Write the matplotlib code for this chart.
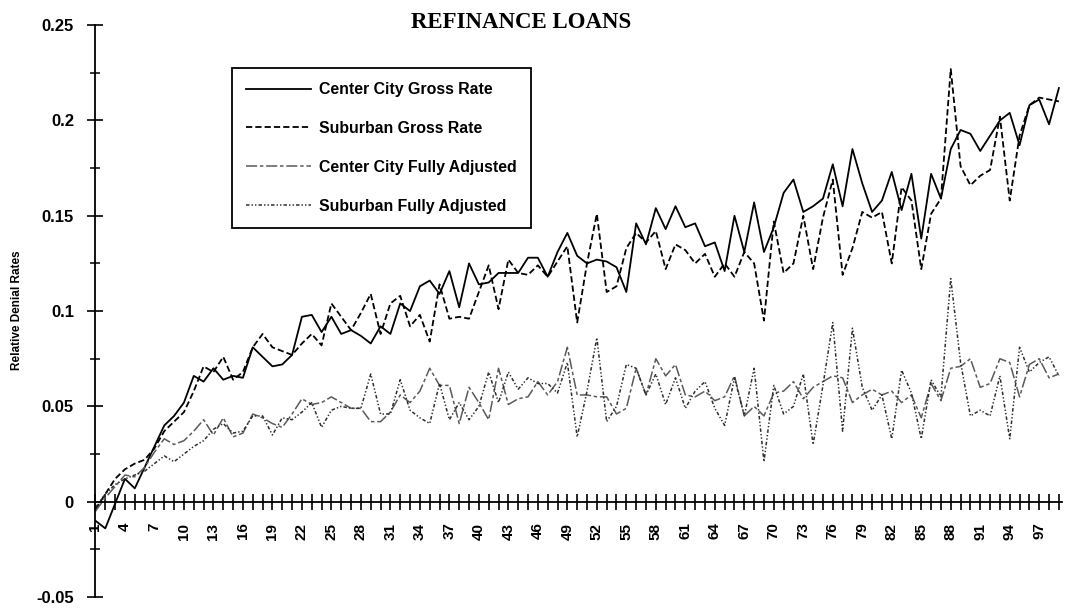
import matplotlib
matplotlib.use("Agg")
import matplotlib.pyplot as plt
from matplotlib.ticker import FixedLocator, FixedFormatter, MultipleLocator

plt.rcParams['font.family'] = ['Liberation Sans', 'DejaVu Sans']
plt.rcParams['lines.scale_dashes'] = False

# ---- data (index 1..99) ----
periods = list(range(1, 100))

center_city_gross = [
    -0.010, -0.014, -0.001, 0.012, 0.007, 0.018, 0.029, 0.040, 0.045, 0.052,
    0.066, 0.063, 0.070, 0.064, 0.066, 0.065, 0.081, 0.076, 0.071, 0.072,
    0.077, 0.097, 0.098, 0.089, 0.097, 0.088, 0.090, 0.087, 0.083, 0.092,
    0.088, 0.104, 0.100, 0.113, 0.116, 0.109, 0.121, 0.102, 0.125, 0.114,
    0.115, 0.120, 0.120, 0.120, 0.128, 0.128, 0.118, 0.131, 0.141, 0.129,
    0.125, 0.127, 0.126, 0.123, 0.110, 0.146, 0.135, 0.154, 0.143, 0.155,
    0.144, 0.146, 0.134, 0.136, 0.121, 0.150, 0.131, 0.157, 0.131, 0.144,
    0.162, 0.169, 0.152, 0.155, 0.159, 0.177, 0.155, 0.185, 0.167, 0.152,
    0.158, 0.173, 0.153, 0.172, 0.138, 0.172, 0.159, 0.185, 0.195, 0.193,
    0.184, 0.192, 0.200, 0.204, 0.187, 0.208, 0.211, 0.198, 0.217]

suburban_gross = [
    -0.004, 0.004, 0.012, 0.017, 0.020, 0.022, 0.028, 0.037, 0.042, 0.047,
    0.058, 0.071, 0.068, 0.076, 0.064, 0.068, 0.081, 0.088, 0.081, 0.079,
    0.077, 0.083, 0.088, 0.082, 0.104, 0.097, 0.090, 0.099, 0.109, 0.088,
    0.104, 0.108, 0.092, 0.098, 0.084, 0.114, 0.096, 0.097, 0.096, 0.110,
    0.124, 0.101, 0.127, 0.120, 0.119, 0.124, 0.118, 0.126, 0.134, 0.094,
    0.125, 0.151, 0.110, 0.113, 0.133, 0.141, 0.136, 0.142, 0.122, 0.135,
    0.132, 0.125, 0.130, 0.118, 0.125, 0.118, 0.131, 0.125, 0.095, 0.147,
    0.120, 0.125, 0.150, 0.122, 0.149, 0.169, 0.119, 0.133, 0.152, 0.149,
    0.152, 0.125, 0.165, 0.158, 0.122, 0.151, 0.159, 0.227, 0.176, 0.166,
    0.171, 0.174, 0.202, 0.158, 0.192, 0.208, 0.212, 0.211, 0.210]

center_city_adjusted = [
    -0.005, 0.002, 0.008, 0.014, 0.013, 0.018, 0.026, 0.033, 0.030, 0.032,
    0.037, 0.043, 0.035, 0.044, 0.034, 0.036, 0.046, 0.044, 0.041, 0.039,
    0.046, 0.054, 0.051, 0.052, 0.055, 0.052, 0.049, 0.049, 0.042, 0.042,
    0.047, 0.056, 0.052, 0.058, 0.070, 0.061, 0.061, 0.041, 0.060, 0.052,
    0.043, 0.070, 0.051, 0.054, 0.055, 0.063, 0.056, 0.063, 0.081, 0.056,
    0.056, 0.055, 0.055, 0.046, 0.049, 0.070, 0.056, 0.075, 0.066, 0.072,
    0.056, 0.055, 0.058, 0.053, 0.055, 0.066, 0.045, 0.050, 0.045, 0.057,
    0.058, 0.063, 0.054, 0.060, 0.063, 0.066, 0.065, 0.052, 0.056, 0.059,
    0.056, 0.058, 0.052, 0.056, 0.044, 0.062, 0.053, 0.070, 0.071, 0.075,
    0.060, 0.062, 0.075, 0.073, 0.055, 0.072, 0.075, 0.065, 0.067]

suburban_adjusted = [
    -0.003, 0.004, 0.009, 0.012, 0.014, 0.016, 0.020, 0.024, 0.021, 0.025,
    0.029, 0.032, 0.038, 0.041, 0.036, 0.037, 0.045, 0.045, 0.035, 0.044,
    0.043, 0.047, 0.052, 0.039, 0.048, 0.050, 0.049, 0.049, 0.067, 0.046,
    0.046, 0.064, 0.048, 0.044, 0.041, 0.062, 0.043, 0.052, 0.043, 0.050,
    0.068, 0.052, 0.068, 0.059, 0.065, 0.062, 0.062, 0.057, 0.073, 0.034,
    0.058, 0.086, 0.042, 0.050, 0.072, 0.070, 0.056, 0.067, 0.051, 0.065,
    0.049, 0.058, 0.063, 0.049, 0.040, 0.065, 0.045, 0.070, 0.021, 0.061,
    0.046, 0.050, 0.067, 0.030, 0.061, 0.094, 0.037, 0.091, 0.060, 0.048,
    0.056, 0.033, 0.069, 0.057, 0.033, 0.064, 0.055, 0.117, 0.073, 0.045,
    0.048, 0.045, 0.066, 0.033, 0.081, 0.068, 0.073, 0.076, 0.066]

series_labels = ["Center City Gross Rate", "Suburban Gross Rate",
                 "Center City Fully Adjusted", "Suburban Fully Adjusted"]
title = "REFINANCE LOANS"
ylabel = "Relative Denial Rates"
y_ticks = [-0.05, 0.0, 0.05, 0.1, 0.15, 0.2, 0.25]
y_ticklabels = ["-0.05", "0", "0.05", "0.1", "0.15", "0.2", "0.25"]
x_label_step = 3

# ---- figure ----
fig = plt.figure(figsize=(10.69, 6.09), dpi=100)
ax = fig.add_axes([0.0893, 0.0197, 0.904, 0.939])

l1, = ax.plot(periods, center_city_gross, color='black', lw=1.3, ls='-')
l2, = ax.plot(periods, suburban_gross, color='black', lw=1.3)
l2.set_dashes((4.5, 2.2))
l3, = ax.plot(periods, center_city_adjusted, color='#5a5a5a', lw=1.1)
l3.set_dashes((8.0, 2.0, 2.5, 2.0))
l4, = ax.plot(periods, suburban_adjusted, color='#2e2e2e', lw=1.1)
l4.set_dashes((2.5, 1.5, 1.0, 1.5, 1.0, 1.5))

ax.set_xlim(1, 99.3)
ax.set_ylim(-0.05, 0.25)

for s in ['top', 'right']:
    ax.spines[s].set_visible(False)
ax.spines['bottom'].set_position(('data', 0))
ax.spines['bottom'].set_linewidth(1.3)
ax.spines['left'].set_linewidth(1.3)

ax.xaxis.set_major_locator(FixedLocator(periods))
ax.xaxis.set_major_formatter(FixedFormatter(
    [str(p) if (p - 1) % x_label_step == 0 else '' for p in periods]))
ax.tick_params(axis='x', which='major', direction='inout', length=12,
               width=1.2, pad=9, labelsize=11, labelrotation=90)

ax.yaxis.set_major_locator(FixedLocator(y_ticks))
ax.yaxis.set_major_formatter(FixedFormatter(y_ticklabels))
ax.yaxis.set_minor_locator(MultipleLocator(0.025))
ax.tick_params(axis='y', which='major', direction='inout', length=11,
               width=1.2, pad=10, labelsize=12)
ax.tick_params(axis='y', which='minor', direction='inout', length=7, width=1.1)

for lab in ax.get_xticklabels() + ax.get_yticklabels():
    lab.set_fontweight('bold')

fig.text(17 / 1069, 0.491, ylabel, rotation=90, ha='center', va='center',
         fontsize=8.5, fontweight='bold')
fig.text(521 / 1069, 1 - 22 / 609, title, ha='center', va='center',
         fontsize=16.5, fontweight='bold', family=['Liberation Serif', 'DejaVu Serif'])

leg = ax.legend([l1, l2, l3, l4], series_labels, loc='upper left',
                bbox_to_anchor=(232 / 1069, 1 - 68 / 609),
                bbox_transform=fig.transFigure, borderaxespad=0,
                fancybox=False, framealpha=1, edgecolor='black',
                prop={'weight': 'bold', 'size': 11.4},
                handlelength=4.1, handletextpad=0.5, labelspacing=1.5,
                borderpad=0.9)
leg.get_frame().set_linewidth(1.3)

fig.savefig("out.png", dpi=100)
